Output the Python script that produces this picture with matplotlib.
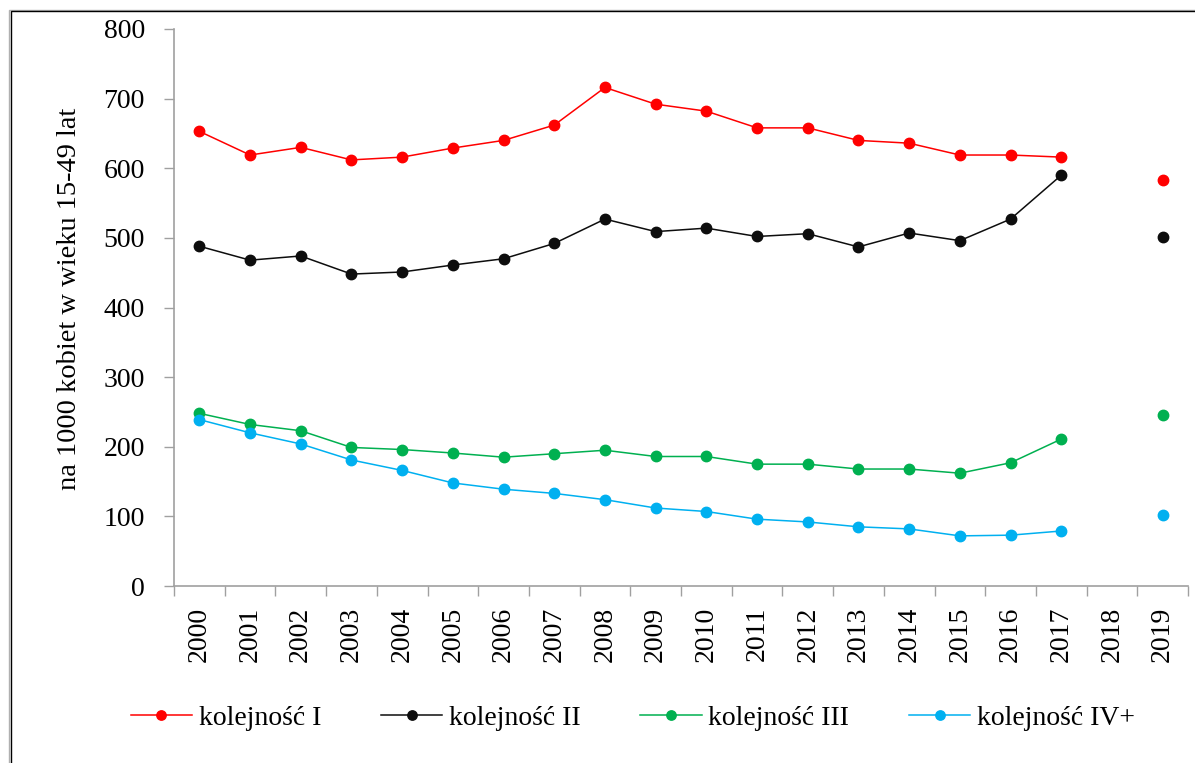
import numpy as np
import matplotlib
matplotlib.use('Agg')
import matplotlib.pyplot as plt
from matplotlib.patches import Rectangle

# values per 1000 women aged 15-49, 2018 missing
years = [str(y) for y in range(2000, 2020)]
kol_1 = [653, 619, 630, 612, 616, 629, 640, 662, 716, 692, 682, 658, 658, 640, 636, 619, 619, 616, np.nan, 583]
kol_2 = [488, 468, 474, 448, 451, 461, 470, 492, 527, 509, 514, 502, 506, 487, 507, 496, 527, 590, np.nan, 501]
kol_3 = [248, 232, 223, 199, 196, 191, 185, 190, 195, 186, 186, 175, 175, 168, 168, 162, 177, 211, np.nan, 245]
kol_4 = [239, 220, 204, 181, 166, 148, 139, 133, 124, 112, 107, 96, 92, 85, 82, 72, 73, 79, np.nan, 102]

series = [
    ('kolejność I', kol_1, '#ff0000'),
    ('kolejność II', kol_2, '#0d0d0d'),
    ('kolejność III', kol_3, '#00b050'),
    ('kolejność IV+', kol_4, '#00b0f0'),
]

plt.rcParams['font.family'] = ['Liberation Serif', 'DejaVu Serif']

W, H = 1195, 763
fig = plt.figure(figsize=(W / 100, H / 100), dpi=100)
ax = fig.add_axes([174 / W, 1 - 586 / H, 1014 / W, 557 / H])

x = np.arange(len(years))
for name, vals, color in series:
    ax.plot(x, vals, color=color, lw=1.1, marker='o', ms=7.5, mec=color, mfc=color, label=name)

ax.set_xlim(-0.5, len(years) - 0.5)
ax.set_ylim(0, 800)
ax.set_yticks(range(0, 801, 100))
ax.tick_params(axis='y', labelsize=20, length=7, width=1, color='#a0a0a0', pad=14)

# labels at category centres, tick marks between categories
ax.set_xticks(x)
ax.set_xticklabels(years, rotation=90, fontsize=20)
ax.set_xticks(np.arange(-0.5, len(years)), minor=True)
ax.tick_params(axis='x', which='major', length=0, pad=15)
ax.tick_params(axis='x', which='minor', length=7, width=1, color='#a0a0a0')

for s in ['top', 'right']:
    ax.spines[s].set_visible(False)
for s in ['left', 'bottom']:
    ax.spines[s].set_color('#a0a0a0')
    ax.spines[s].set_linewidth(1.2)

ax.set_ylabel('na 1000 kobiet w wieku 15-49 lat', fontsize=20.5)
ax.yaxis.set_label_coords(-0.0907, 0.516)

ax.legend(loc='center', bbox_to_anchor=(633 / W, 1 - 718 / H), bbox_transform=fig.transFigure,
          ncol=4, frameon=False, fontsize=20, handlelength=2.2, handletextpad=0.25,
          columnspacing=2.15, markerscale=0.9)

# outer frame, cut off at right and bottom
fig.add_artist(Rectangle((9 / W, -0.1), 1.2, 1.1 - 10 / H, transform=fig.transFigure,
                         fill=False, ec='#b0b0b0', lw=1))
fig.add_artist(Rectangle((10.5 / W, -0.1), 1.2, 1.1 - 11.5 / H, transform=fig.transFigure,
                         fill=False, ec='black', lw=1))

fig.savefig('out.png', dpi=100)
